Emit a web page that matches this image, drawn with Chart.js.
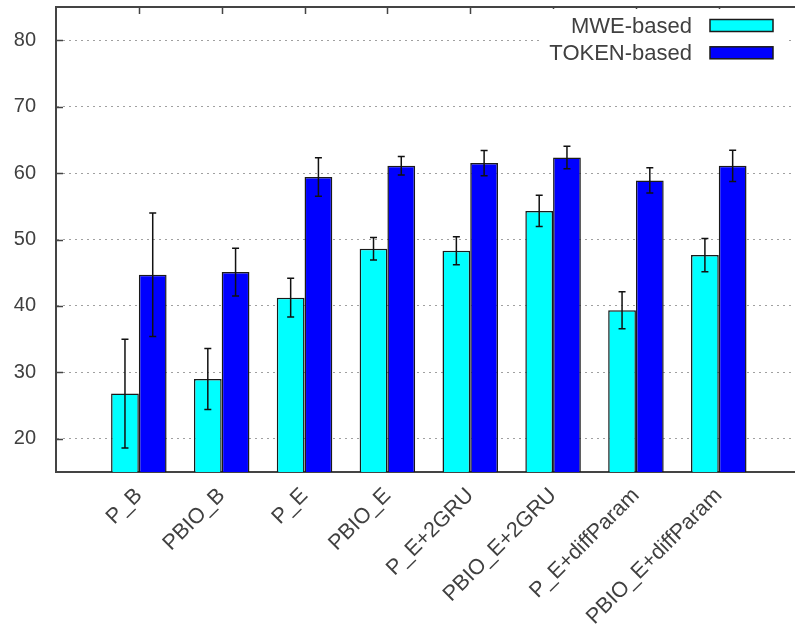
<!DOCTYPE html>
<html>
<head>
<meta charset="utf-8">
<script src="https://cdn.jsdelivr.net/npm/chart.js@4/dist/chart.umd.min.js"></script>
<style>
  html, body { margin: 0; padding: 0; background: #ffffff; overflow: hidden; }
  #wrap { width: 795px; height: 634px; }
</style>
</head>
<body>
<div id="wrap"><canvas id="c" width="795" height="634"></canvas></div>
<script>
// ---- data ----
const categories = ['P_B', 'PBIO_B', 'P_E', 'PBIO_E', 'P_E+2GRU', 'PBIO_E+2GRU', 'P_E+diffParam', 'PBIO_E+diffParam'];
const seriesNames = ['MWE-based', 'TOKEN-based'];
const mweValues = [26.8, 29.0, 41.25, 48.6, 48.3, 54.3, 39.35, 47.65];
const mweErrors = [8.2, 4.6, 2.9, 1.7, 2.1, 2.35, 2.8, 2.5];
const tokenValues = [44.7, 45.1, 59.4, 61.1, 61.5, 62.35, 58.9, 61.1];
const tokenErrors = [9.3, 3.6, 2.9, 1.4, 1.9, 1.7, 1.9, 2.35];
const yTickValues = [20, 30, 40, 50, 60, 70, 80];

const FONT = "'Liberation Sans', Arial, Helvetica, sans-serif";
const TEXT = '#404040';
const AXIS = '#444444';

function toPoints(vals) { return vals.map((v, i) => ({ x: i, y: v })); }

const errorBarPlugin = {
  id: 'errorBars',
  afterDatasetsDraw(chart) {
    const ctx = chart.ctx;
    const y = chart.scales.y;
    ctx.save();
    ctx.strokeStyle = '#111111';
    ctx.lineWidth = 1.5;
    chart.data.datasets.forEach((ds, di) => {
      const meta = chart.getDatasetMeta(di);
      meta.data.forEach((bar, i) => {
        const v = ds.data[i].y, e = ds.errors[i];
        const x = bar.x;
        const yt = y.getPixelForValue(v + e);
        const yb = y.getPixelForValue(v - e);
        ctx.beginPath();
        ctx.moveTo(x, yt); ctx.lineTo(x, yb);
        ctx.moveTo(x - 3.5, yt); ctx.lineTo(x + 3.5, yt);
        ctx.moveTo(x - 3.5, yb); ctx.lineTo(x + 3.5, yb);
        ctx.stroke();
      });
    });
    ctx.restore();
  }
};

const framePlugin = {
  id: 'frame',
  afterDraw(chart) {
    const ctx = chart.ctx;
    const a = chart.chartArea;
    const xs = chart.scales.x, ys = chart.scales.y;
    ctx.save();
    ctx.strokeStyle = AXIS;
    ctx.lineWidth = 2;
    // top border
    ctx.beginPath();
    ctx.moveTo(a.left, a.top); ctx.lineTo(a.right, a.top);
    ctx.stroke();
    ctx.lineWidth = 1.5;
    // top ticks at categories
    ctx.beginPath();
    categories.forEach((c, i) => {
      const px = Math.round(xs.getPixelForValue(i)) + 0.5;
      ctx.moveTo(px, a.top); ctx.lineTo(px, a.top + 7);
    });
    // left inward ticks
    yTickValues.forEach(v => {
      const py = Math.round(ys.getPixelForValue(v)) + 0.5;
      ctx.moveTo(a.left, py); ctx.lineTo(a.left + 7, py);
    });
    ctx.stroke();

    // legend (inside plot, top right)
    const rows = chart.data.datasets.map(d => ({ label: d.label, fill: d.backgroundColor }));
    ctx.fillStyle = '#ffffff';
    ctx.fillRect(540, a.top + 2, 247, 58);
    ctx.font = '22px ' + FONT;
    ctx.textAlign = 'right';
    ctx.textBaseline = 'middle';
    rows.forEach((r, i) => {
      const cy = 25.5 + i * 27.3;
      ctx.fillStyle = TEXT;
      ctx.fillText(r.label, 692, cy + 1);
      ctx.fillStyle = r.fill;
      ctx.fillRect(710, cy - 6, 63, 12);
      ctx.strokeStyle = '#1a1a1a';
      ctx.lineWidth = 1.5;
      ctx.strokeRect(710, cy - 6, 63, 12);
    });
    ctx.restore();
  }
};

new Chart(document.getElementById('c'), {
  type: 'bar',
  data: {
    datasets: [
      { label: seriesNames[0], data: toPoints(mweValues), errors: mweErrors,
        backgroundColor: '#00ffff', borderColor: '#1a1a1a', borderWidth: 1.5 },
      { label: seriesNames[1], data: toPoints(tokenValues), errors: tokenErrors,
        backgroundColor: '#0000ff', borderColor: '#1a1a1a', borderWidth: 1.5 }
    ]
  },
  options: {
    responsive: false,
    animation: false,
    devicePixelRatio: 1,
    layout: { padding: { top: 7, right: 0, left: 0, bottom: 0 } },
    datasets: { bar: { categoryPercentage: 0.67, barPercentage: 1.0 } },
    plugins: { legend: { display: false }, tooltip: { enabled: false } },
    scales: {
      x: {
        type: 'linear',
        min: -1,
        max: 7.92,
        offset: false,
        afterBuildTicks: axis => { axis.ticks = categories.map((c, i) => ({ value: i })); },
        afterFit: axis => {
          axis.height = 634 - 472;
          axis.paddingLeft = 0; axis.paddingRight = 0; axis.paddingTop = 0; axis.paddingBottom = 0;
        },
        grid: { display: false, drawTicks: false, offset: false },
        border: { display: true, color: AXIS, width: 2 },
        ticks: {
          autoSkip: false,
          minRotation: 45,
          maxRotation: 45,
          padding: 11,
          color: TEXT,
          font: { family: FONT, size: 21.5 },
          callback: (v) => categories[v] !== undefined ? categories[v] : ''
        }
      },
      y: {
        min: 15,
        max: 85,
        afterBuildTicks: axis => { axis.ticks = yTickValues.map(v => ({ value: v })); },
        afterFit: axis => {
          axis.width = 56;
          axis.paddingLeft = 0; axis.paddingRight = 0; axis.paddingTop = 0; axis.paddingBottom = 0;
        },
        grid: { display: true, drawTicks: false, color: '#a0a0a0', lineWidth: 1 },
        border: { display: true, color: AXIS, width: 2, dash: [2, 4] },
        ticks: {
          padding: 20,
          color: TEXT,
          font: { family: FONT, size: 20 }
        }
      }
    }
  },
  plugins: [errorBarPlugin, framePlugin]
});
</script>
</body>
</html>
